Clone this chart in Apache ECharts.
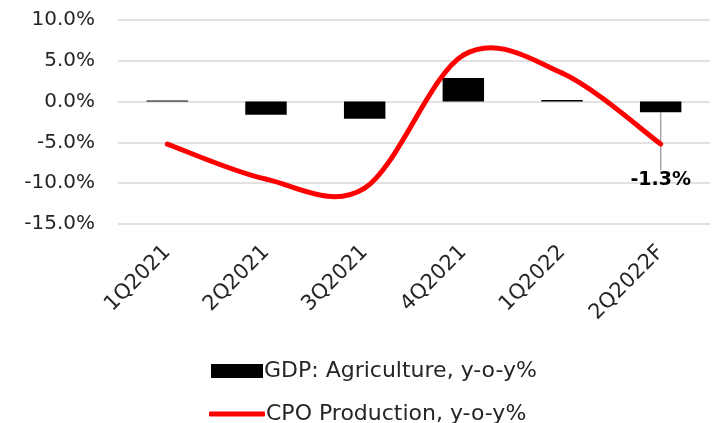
<!DOCTYPE html>
<html>
<head>
<meta charset="utf-8">
<script src="https://cdn.jsdelivr.net/npm/echarts@6/dist/echarts.min.js"></script>
<style>
  html, body { margin: 0; padding: 0; background: #fff; overflow: hidden; }
  #chart { width: 727px; height: 423px; }
</style>
</head>
<body>
<div id="chart"></div>
<script>
// Quarterly categories
const quarters = ['1Q2021', '2Q2021', '3Q2021', '4Q2021', '1Q2022', '2Q2022F'];
// Agriculture GDP growth, y-o-y %
const gdpAgriculture = [0.15, -1.6, -2.1, 2.9, 0.2, -1.3];
// CPO production growth, y-o-y %
const cpoProduction = [-5.2, -9.5, -10.6, 5.7, 3.5, -5.2];
// Value axis ticks
const yMin = -15, yMax = 10, yStep = 5;

const seriesNames = ['GDP: Agriculture, y-o-y%', 'CPO Production, y-o-y%'];
const FONT = 'DejaVu Sans';
const TEXT = '#262626';
const RED = '#ff0000';
const last = gdpAgriculture.length - 1;

// Smoothed line through the points: cubic Bezier segments with
// Catmull-Rom style control points (tangent = (next - prev) / 6).
function renderSmoothLine(params, api) {
  if (params.dataIndex !== 0) return null;
  const pts = cpoProduction.map((v, i) => api.coord([i, v]));
  const n = pts.length;
  const children = [];
  for (let i = 0; i < n - 1; i++) {
    const p0 = pts[Math.max(i - 1, 0)];
    const p1 = pts[i];
    const p2 = pts[i + 1];
    const p3 = pts[Math.min(i + 2, n - 1)];
    children.push({
      type: 'bezierCurve',
      shape: {
        x1: p1[0], y1: p1[1],
        cpx1: p1[0] + (p2[0] - p0[0]) / 6, cpy1: p1[1] + (p2[1] - p0[1]) / 6,
        cpx2: p2[0] - (p3[0] - p1[0]) / 6, cpy2: p2[1] - (p3[1] - p1[1]) / 6,
        x2: p2[0], y2: p2[1]
      },
      style: { stroke: RED, lineWidth: 5, fill: null, lineCap: 'round', lineJoin: 'round' }
    });
  }
  return { type: 'group', children: children };
}

const chart = echarts.init(document.getElementById('chart'));

chart.setOption({
  animation: false,
  textStyle: { fontFamily: FONT },
  grid: { left: 118, right: 17, top: 20, bottom: 199, containLabel: false },
  xAxis: {
    type: 'category',
    data: quarters,
    axisLine: { show: false },
    axisTick: { show: false },
    axisLabel: {
      rotate: 45, margin: 25, fontSize: 21, color: TEXT, fontFamily: FONT
    }
  },
  yAxis: {
    type: 'value',
    min: yMin, max: yMax, interval: yStep,
    axisLine: { show: false },
    axisTick: { show: false },
    splitLine: { lineStyle: { color: '#d9d9d9', width: 1.5 } },
    axisLabel: {
      margin: 23, fontSize: 20, color: TEXT, fontFamily: FONT,
      formatter: v => v.toFixed(1) + '%'
    }
  },
  legend: [
    {
      left: 206, top: 355,
      itemWidth: 52, itemHeight: 14, itemGap: 0,
      textStyle: { fontSize: 22, color: TEXT, fontFamily: FONT, padding: [0, 0, 0, -4] },
      data: [{ name: seriesNames[0], icon: 'rect' }]
    },
    {
      left: 204, top: 398,
      itemWidth: 56, itemHeight: 5, itemGap: 0,
      textStyle: { fontSize: 22, color: TEXT, fontFamily: FONT, padding: [0, 0, 0, -4] },
      data: [{ name: seriesNames[1], icon: 'roundRect' }]
    }
  ],
  series: [
    {
      name: seriesNames[0],
      type: 'bar',
      barCategoryGap: '58%',
      itemStyle: { color: '#000' },
      label: {
        show: false, position: 'bottom', distance: 5,
        fontSize: 19, fontWeight: 'bold', color: '#000', fontFamily: FONT,
        formatter: p => p.value.toFixed(1) + '%'
      },
      labelLayout: p => (p.dataIndex === last ? { dy: 53 } : {}),
      labelLine: { show: true, lineStyle: { color: '#a6a6a6', width: 1.5 } },
      data: gdpAgriculture.map((v, i) => i === last
        ? { value: v, label: { show: true } }
        : v)
    },
    {
      name: seriesNames[1],
      type: 'custom',
      renderItem: renderSmoothLine,
      itemStyle: { color: RED },
      encode: { x: 0, y: 1 },
      data: cpoProduction.map((v, i) => [i, v]),
      z: 3
    }
  ]
});
</script>
</body>
</html>
